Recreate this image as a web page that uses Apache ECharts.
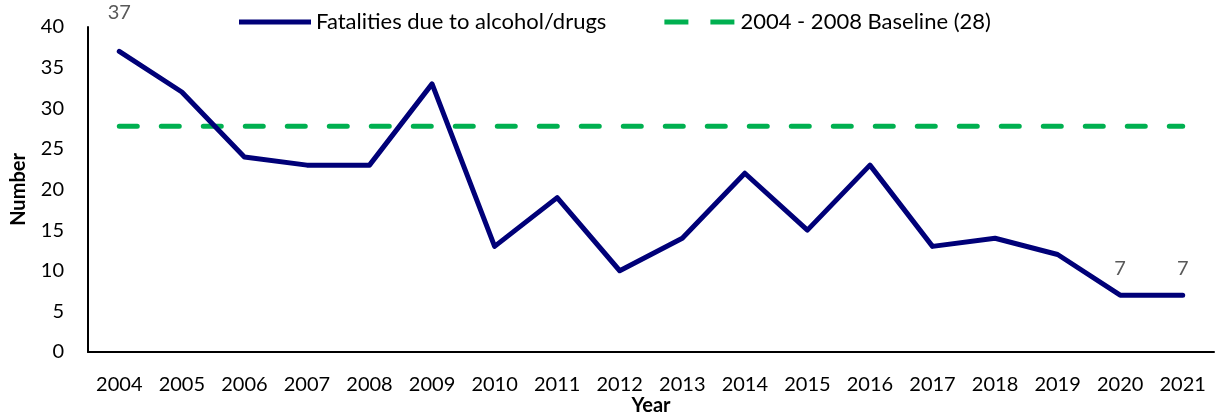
<!DOCTYPE html>
<html>
<head>
<meta charset="utf-8">
<script src="https://cdn.jsdelivr.net/npm/echarts@6/dist/echarts.min.js"></script>
<style>
  html, body { margin: 0; padding: 0; background: #fff; }
  #chart { width: 1221px; height: 418px; }
</style>
</head>
<body>
<div id="chart"></div>
<script>
const years = ['2004', '2005', '2006', '2007', '2008', '2009', '2010', '2011', '2012',
    '2013', '2014', '2015', '2016', '2017', '2018', '2019', '2020', '2021'];
const fatalities = [37, 32, 24, 23, 23, 33, 13, 19, 10, 14, 22, 15, 23, 13, 14, 12, 7, 7];
const baselineValue = 27.8;
const baseline = years.map(() => baselineValue);
// which points get a value label
const labelled = [0, 16, 17];

const fontFamily = 'Lato, "Open Sans", sans-serif';
const navy = '#000078';
const green = '#00B050';

var myChart = echarts.init(document.getElementById('chart'));
var option = {
    animation: false,
    textStyle: { fontFamily: fontFamily },
    grid: { left: 88, right: 7, top: 27, bottom: 66, outerBoundsMode: 'none', containLabel: false },
    legend: {
        top: 6,
        left: 234,
        itemWidth: 72,
        itemHeight: 5,
        itemGap: 58,
        textStyle: { fontSize: 22, color: '#000', fontFamily: fontFamily },
        data: [
            {
                name: 'Fatalities due to alcohol/drugs',
                icon: 'path://M0,0h72v5h-72z',
                itemStyle: { color: navy }
            },
            {
                name: '2004 - 2008 Baseline (28)',
                icon: 'path://M0,0h24v5h-24z M46,0h24v5h-24z',
                itemStyle: { color: green }
            }
        ]
    },
    xAxis: {
        type: 'category',
        data: years,
        name: 'Year',
        nameLocation: 'middle',
        nameGap: 44,
        nameMoveOverlap: false,
        nameTextStyle: { fontSize: 20, fontWeight: 'bold', color: '#000' },
        axisLine: { lineStyle: { color: '#000', width: 2 } },
        axisTick: { show: false },
        axisLabel: { fontSize: 20, color: '#000', margin: 23 }
    },
    yAxis: {
        type: 'value',
        min: 0,
        max: 40,
        interval: 5,
        name: 'Number',
        nameLocation: 'middle',
        nameGap: 59,
        nameMoveOverlap: false,
        nameTextStyle: { fontSize: 20, fontWeight: 'bold', color: '#000' },
        axisLine: { show: true, lineStyle: { color: '#000', width: 2 } },
        axisTick: { show: false },
        splitLine: { show: false },
        axisLabel: { fontSize: 20, color: '#000', margin: 24 }
    },
    series: [
        {
            name: 'Fatalities due to alcohol/drugs',
            type: 'line',
            data: fatalities.map((v, i) => ({
                value: v,
                label: { show: labelled.includes(i), distance: i === 0 ? 28 : 16 }
            })),
            symbol: 'circle',
            symbolSize: 2,
            showSymbol: true,
            itemStyle: { color: navy },
            lineStyle: { color: navy, width: 5, cap: 'round', join: 'round' },
            label: {
                position: 'top',
                fontSize: 20,
                color: '#595959',
                fontFamily: fontFamily
            },
            z: 3
        },
        {
            name: '2004 - 2008 Baseline (28)',
            type: 'line',
            data: baseline,
            symbol: 'none',
            itemStyle: { color: green },
            lineStyle: { color: green, width: 5, type: [18, 24], cap: 'round' },
            z: 2
        }
    ]
};
myChart.setOption(option);
</script>
</body>
</html>
